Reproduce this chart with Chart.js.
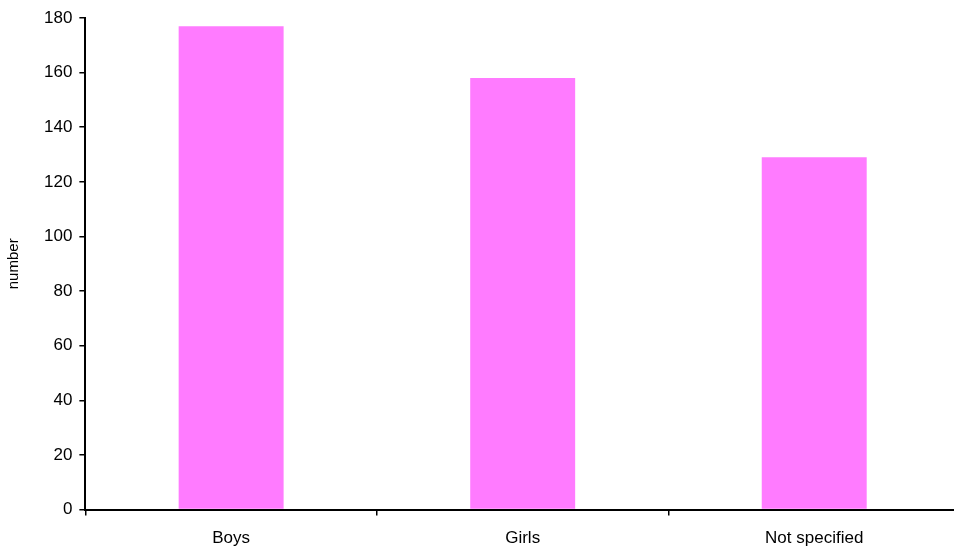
<!DOCTYPE html>
<html>
<head>
<meta charset="utf-8">
<script src="https://cdn.jsdelivr.net/npm/chart.js@4"></script>
<style>
html,body{margin:0;padding:0;background:#fff;overflow:hidden;}
#wrap{width:960px;height:562px;}
</style>
</head>
<body>
<div id="wrap"><canvas id="c" width="960" height="562"></canvas></div>
<script>
const categories = ["Boys", "Girls", "Not specified"];
const values = [177, 158, 129];
const yTicks = [0, 20, 40, 60, 80, 100, 120, 140, 160, 180];
const yTitle = "number";

const font = {family: "'Liberation Sans', Arial, Helvetica, sans-serif", size: 17};

new Chart(document.getElementById('c'), {
  type: 'bar',
  data: {
    labels: categories,
    datasets: [{
      data: values,
      backgroundColor: '#FF7BFF',
      borderWidth: 0,
      barPercentage: 0.36,
      categoryPercentage: 1.0
    }]
  },
  options: {
    responsive: false,
    animation: false,
    layout: {padding: {top: 18, left: 5, right: 0, bottom: 0}},
    plugins: {legend: {display: false}, tooltip: {enabled: false}},
    scales: {
      x: {
        offset: true,
        grid: {offset: true, drawOnChartArea: false, drawTicks: true, tickLength: 6, color: '#000', lineWidth: 1.5},
        border: {color: '#000', width: 2},
        ticks: {color: '#000', font: font, padding: 13, maxRotation: 0}
      },
      y: {
        min: 0,
        max: yTicks[yTicks.length - 1],
        afterBuildTicks: (axis) => { axis.ticks = yTicks.map(v => ({value: v})); },
        grid: {drawOnChartArea: false, drawTicks: true, tickLength: 6, color: '#000', lineWidth: 1.5},
        border: {color: '#000', width: 2},
        ticks: {color: '#000', font: font, padding: 7},
        title: {display: true, text: yTitle, color: '#000', font: {family: font.family, size: 15}, padding: {top: 0, bottom: 14}}
      }
    }
  }
});
</script>
</body>
</html>
